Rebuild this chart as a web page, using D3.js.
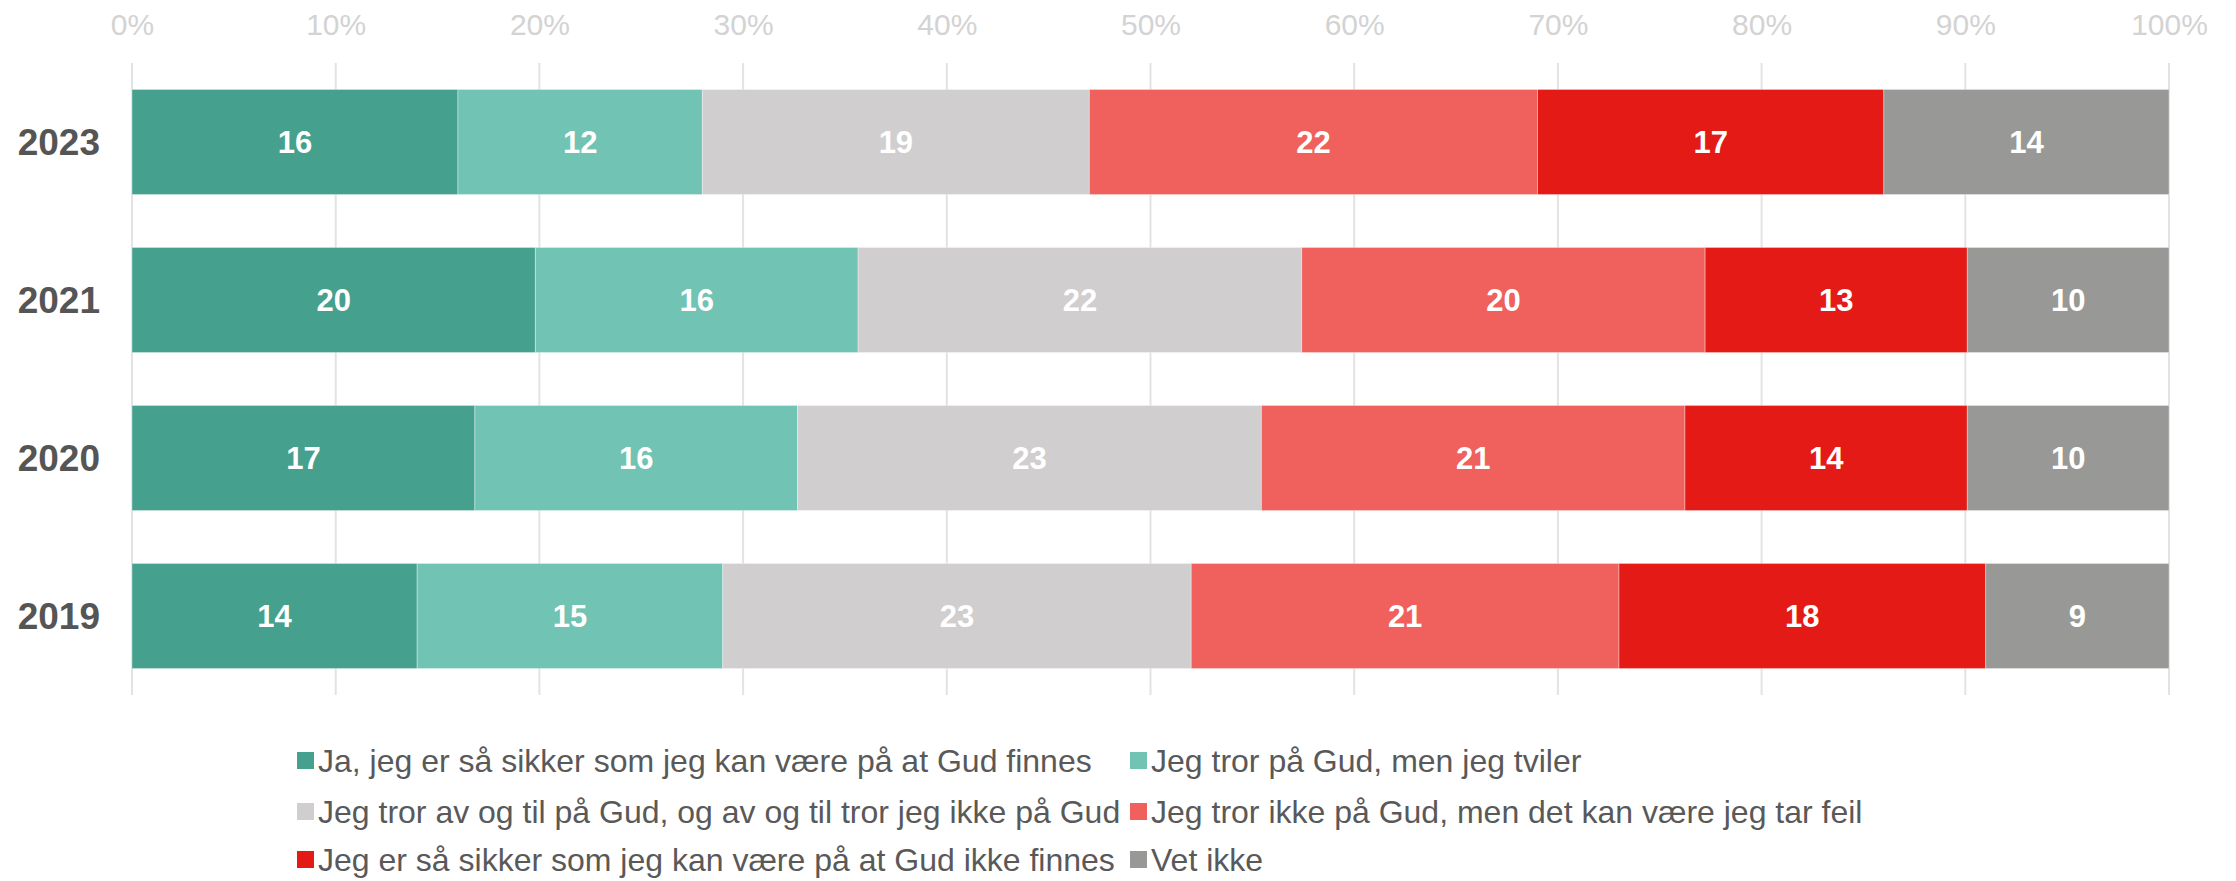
<!DOCTYPE html>
<html>
<head>
<meta charset="utf-8">
<script src="https://cdn.jsdelivr.net/npm/d3@7"></script>
<style>
  html, body { margin: 0; padding: 0; background: #fff; }
  svg { display: block; font-family: "Liberation Sans", Arial, sans-serif; }
</style>
</head>
<body>
<svg id="chart" width="2236" height="881"></svg>
<script>
// Survey years, top to bottom
const years = ["2023", "2021", "2020", "2019"];

// Answer categories (legend order = stacking order)
const categories = [
  "Ja, jeg er så sikker som jeg kan være på at Gud finnes",
  "Jeg tror på Gud, men jeg tviler",
  "Jeg tror av og til på Gud, og av og til tror jeg ikke på Gud",
  "Jeg tror ikke på Gud, men det kan være jeg tar feil",
  "Jeg er så sikker som jeg kan være på at Gud ikke finnes",
  "Vet ikke"
];

// Percent per category, one array per year
const values2023 = [16, 12, 19, 22, 17, 14];
const values2021 = [20, 16, 22, 20, 13, 10];
const values2020 = [17, 16, 23, 21, 14, 10];
const values2019 = [14, 15, 23, 21, 18, 9];

const colors = ["#46A08E", "#71C3B3", "#D0CECE", "#F0605C", "#E31A16", "#989996"];

const tickValues = [0, 0.1, 0.2, 0.3, 0.4, 0.5, 0.6, 0.7, 0.8, 0.9, 1.0];

const rows = [values2023, values2021, values2020, values2019].map((vals, i) => ({ year: years[i], vals }));

const svg = d3.select("#chart");

const x = d3.scaleLinear().domain([0, 1]).range([132, 2169]);
const y = d3.scaleBand().domain(years).range([63, 695]).paddingInner(0.335).paddingOuter(0.1675);

// vertical gridlines
svg.append("g")
  .selectAll("line")
  .data(tickValues)
  .join("line")
  .attr("x1", d => x(d)).attr("x2", d => x(d))
  .attr("y1", 63).attr("y2", 695)
  .attr("stroke", "#E3E3E3")
  .attr("stroke-width", 2);

// top axis labels
const xAxis = d3.axisTop(x).tickValues(tickValues).tickFormat(d3.format(".0%")).tickSize(0).tickPadding(0);
const gx = svg.append("g").attr("transform", "translate(0,35)").call(xAxis);
gx.select(".domain").remove();
gx.selectAll("text")
  .attr("font-size", 30)
  .attr("font-family", "Liberation Sans, Arial, sans-serif")
  .attr("fill", "#D3D3D3")
  .attr("dy", 0);

// stacked, normalised bars
const rowG = svg.append("g").selectAll("g")
  .data(rows)
  .join("g")
  .attr("transform", d => `translate(0,${y(d.year)})`);

rowG.each(function (row) {
  const total = d3.sum(row.vals);
  let acc = 0;
  const segs = row.vals.map((v, i) => {
    const s = { v, i, x0: acc / total, x1: (acc + v) / total };
    acc += v;
    return s;
  });
  const g = d3.select(this);
  g.selectAll("rect")
    .data(segs)
    .join("rect")
    .attr("x", d => x(d.x0))
    .attr("width", d => x(d.x1) - x(d.x0))
    .attr("y", 0)
    .attr("height", y.bandwidth())
    .attr("fill", d => colors[d.i])
    .attr("stroke", "rgba(255,255,255,0.35)")
    .attr("stroke-width", 1);
  g.selectAll("text")
    .data(segs)
    .join("text")
    .attr("x", d => (x(d.x0) + x(d.x1)) / 2)
    .attr("y", y.bandwidth() / 2)
    .attr("dy", "0.36em")
    .attr("text-anchor", "middle")
    .attr("font-size", 31)
    .attr("font-weight", "bold")
    .attr("fill", "#FFFFFF")
    .text(d => d.v);
});

// year labels
svg.append("g").selectAll("text")
  .data(years)
  .join("text")
  .attr("x", 100)
  .attr("y", d => y(d) + y.bandwidth() / 2)
  .attr("dy", "0.36em")
  .attr("text-anchor", "end")
  .attr("font-size", 37)
  .attr("font-weight", "bold")
  .attr("fill", "#555555")
  .text(d => d);

// legend: two columns, three rows
const legendCols = [297, 1130];
const legendRows = [752, 803, 851];
const lg = svg.append("g").selectAll("g")
  .data(categories)
  .join("g")
  .attr("transform", (d, i) => `translate(${legendCols[i % 2]},${legendRows[Math.floor(i / 2)]})`);
lg.append("rect")
  .attr("width", 17).attr("height", 17)
  .attr("fill", (d, i) => colors[i]);
lg.append("text")
  .attr("x", 21)
  .attr("y", 8.5)
  .attr("dy", "0.36em")
  .attr("font-size", 32)
  .attr("fill", "#595959")
  .text(d => d);
</script>
</body>
</html>
